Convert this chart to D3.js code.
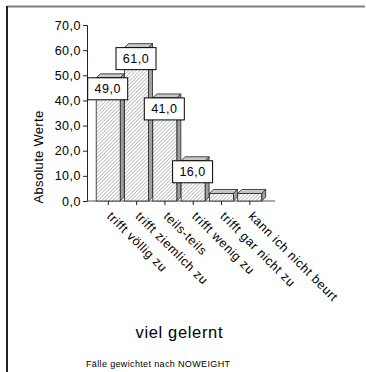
<!DOCTYPE html>
<html><head><meta charset="utf-8">
<script src="https://cdn.jsdelivr.net/npm/d3@7"></script>
<style>body{margin:0;background:#fff}svg{display:block}text{font-family:"Liberation Sans",Arial,sans-serif;fill:#000}</style>
</head><body>
<script>
const categories = ["trifft völlig zu","trifft ziemlich zu","teils-teils","trifft wenig zu","trifft gar nicht zu","kann ich nicht beurt"];
const values = [49, 61, 41, 16, 3, 3];
const showLabel = [true, true, true, true, false, false];
const yTicks = [0,10,20,30,40,50,60,70];
const title = "viel gelernt";
const yTitle = "Absolute Werte";
const footnote = "Fälle gewichtet nach NOWEIGHT";

const W = 366, H = 372;
const svg = d3.select("body").append("svg").attr("width", W).attr("height", H);
const defs = svg.append("defs");
const pat = defs.append("pattern").attr("id","hatch").attr("patternUnits","userSpaceOnUse")
  .attr("width",2.6).attr("height",2.6).attr("patternTransform","rotate(45)");
pat.append("rect").attr("width",2.6).attr("height",2.6).attr("fill","#fff");
pat.append("line").attr("x1",0).attr("y1",0).attr("x2",0).attr("y2",2.6).attr("stroke","#7a7a7a").attr("stroke-width",0.9);

// frame
svg.append("line").attr("x1",7).attr("y1",6.5).attr("x2",365).attr("y2",6.5).attr("stroke","#808080").attr("stroke-width",2);
svg.append("line").attr("x1",7).attr("y1",6).attr("x2",7).attr("y2",H).attr("stroke","#222").attr("stroke-width",2);

const y = d3.scaleLinear().domain([0,70]).range([201,25]);
const x = d3.scaleBand().domain(categories).range([94.2,264.0]).padding(0);
const dx = 4, dy = 4, frontW = 24;

// y axis
const yAxis = svg.append("g").attr("transform","translate(87,0)")
  .call(d3.axisLeft(y).tickValues(yTicks).tickSize(4).tickPadding(2).tickFormat(d => d3.format(".1f")(d).replace(".",",")));
yAxis.select(".domain").attr("stroke","#222");
yAxis.selectAll(".tick line").attr("stroke","#222");
yAxis.selectAll("text").attr("font-size",12.5).attr("letter-spacing","0.5px").attr("font-family",'"Liberation Sans",Arial,sans-serif');

// x axis baseline and ticks
svg.append("line").attr("x1",87).attr("x2",275).attr("y1",y(0)).attr("y2",y(0)).attr("stroke","#555").attr("stroke-width",1);
const xg = svg.append("g");
categories.forEach(c => {
  const cx = x(c) + x.bandwidth()/2;
  xg.append("line").attr("x1",cx).attr("x2",cx).attr("y1",y(0)).attr("y2",y(0)+4).attr("stroke","#222");
  xg.append("text").attr("transform",`translate(${cx-2},${y(0)+16}) rotate(45)`)
    .attr("font-size",12.5).attr("letter-spacing","0.6px").text(c);
});

// bars
const bars = svg.append("g");
categories.forEach((c,i) => {
  const x0 = x(c) + 2, x1 = x0 + frontW, yt = y(values[i]), yb = y(0);
  bars.append("path").attr("d",`M${x1},${yb} L${x1+dx},${yb-dy} L${x1+dx},${yt-dy} L${x1},${yt} Z`)
    .attr("fill","#a0a0a0").attr("stroke","#222").attr("stroke-width",0.8);
  bars.append("path").attr("d",`M${x0},${yt} L${x0+dx},${yt-dy} L${x1+dx},${yt-dy} L${x1},${yt} Z`)
    .attr("fill","#c8c8c8").attr("stroke","#222").attr("stroke-width",0.8);
  bars.append("rect").attr("x",x0).attr("y",yt).attr("width",frontW).attr("height",yb-yt)
    .attr("fill","url(#hatch)").attr("stroke","#222").attr("stroke-width",0.8);
});

// value labels
categories.forEach((c,i) => {
  if(!showLabel[i]) return;
  const cx = x(c) + 2 + frontW/2 - 0.5, yt = y(values[i]);
  svg.append("rect").attr("x",cx-20).attr("y",yt).attr("width",40).attr("height",22)
    .attr("fill","#fff").attr("stroke","#000").attr("stroke-width",1);
  svg.append("text").attr("x",cx).attr("y",yt+15.5).attr("text-anchor","middle")
    .attr("font-size",12.5).attr("letter-spacing","0.5px")
    .text(d3.format(".1f")(values[i]).replace(".",","));
});

// y title
svg.append("text").attr("transform","translate(43,157) rotate(-90)").attr("text-anchor","middle")
  .attr("font-size",13).attr("letter-spacing","0.3px").text(yTitle);

// title
svg.append("text").attr("x",179).attr("y",338).attr("text-anchor","middle")
  .attr("font-size",16.5).attr("textLength",87).attr("lengthAdjust","spacing").text(title);
// footnote
svg.append("text").attr("x",86).attr("y",367)
  .attr("font-size",9).attr("textLength",144).attr("lengthAdjust","spacing").text(footnote);
</script>
</body></html>
